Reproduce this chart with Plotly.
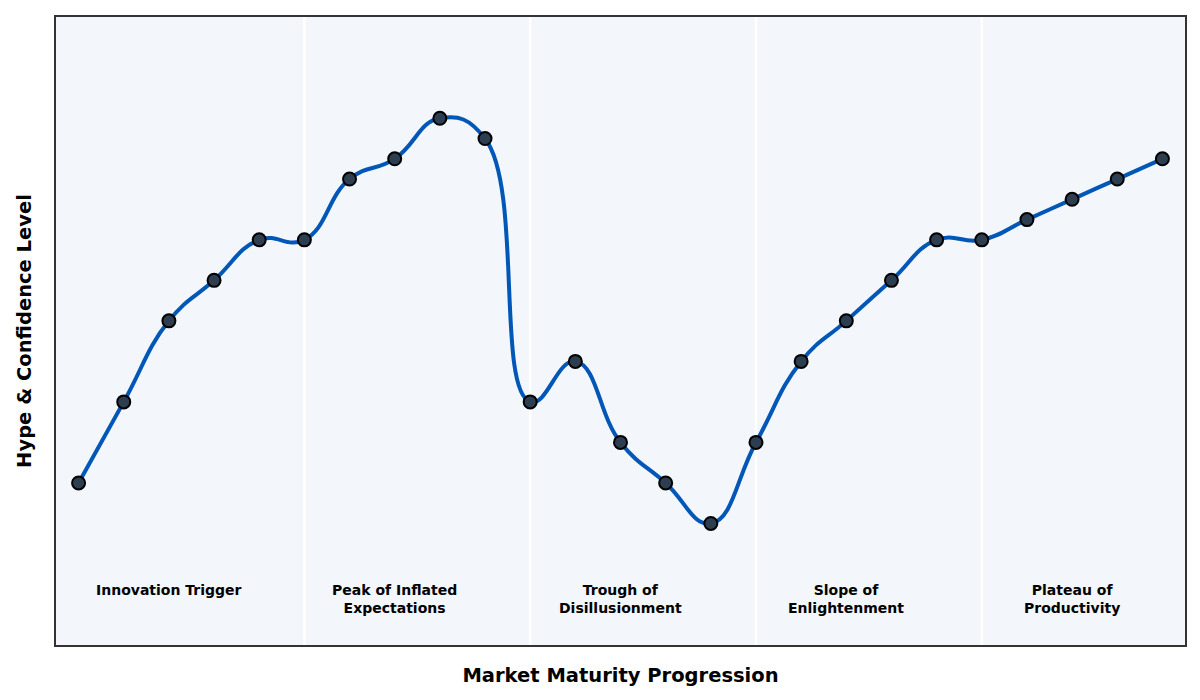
import plotly.graph_objects as go

x_vals = list(range(25))
hype = [1, 3, 5, 6, 7, 7, 8.5, 9, 10, 9.5, 3, 4, 2, 1, 0, 2, 4, 5, 6, 7, 7, 7.5, 8, 8.5, 9]
stage_names = ["Innovation Trigger", "Peak of Inflated<br>Expectations", "Trough of<br>Disillusionment",
               "Slope of<br>Enlightenment", "Plateau of<br>Productivity"]
stage_centers = [2, 7, 12, 17, 22]
stage_bounds = [5, 10, 15, 20]

fig = go.Figure()
fig.add_trace(go.Scatter(
    x=x_vals, y=hype, mode="lines+markers",
    line=dict(color="#0057b7", width=4, shape="spline", smoothing=1.3),
    marker=dict(size=13, color="#2c3e50", line=dict(color="#000000", width=2)),
    showlegend=False, hoverinfo="skip",
))

shapes = []
for b in stage_bounds:
    shapes.append(dict(type="line", xref="x", yref="paper", x0=b, x1=b, y0=0, y1=1,
                       line=dict(color="white", width=2.5), layer="below"))

annotations = []
for cx, name in zip(stage_centers, stage_names):
    annotations.append(dict(x=cx, y=-1.4, xref="x", yref="y", text=name, showarrow=False,
                            yanchor="top", xanchor="center", align="center",
                            font=dict(family="DejaVu Sans", size=14, color="black", weight="bold")))

fig.update_layout(
    width=1200, height=700,
    margin=dict(l=48, r=23, t=7, b=63),
    paper_bgcolor="white", plot_bgcolor="#f3f6fa",
    shapes=shapes, annotations=annotations,
    font=dict(family="DejaVu Sans"),
)
fig.update_xaxes(range=[-0.5, 24.5], showticklabels=False, showgrid=False, zeroline=False,
                 showline=True, mirror=True, linecolor="#333333", linewidth=2, ticks="",
                 title=dict(text="<b>Market Maturity Progression</b>", font=dict(size=19.5, color="black"), standoff=22))
fig.update_yaxes(range=[-3, 12.5], showticklabels=False, showgrid=False, zeroline=False,
                 showline=True, mirror=True, linecolor="#333333", linewidth=2, ticks="",
                 title=dict(text="<b>Hype & Confidence Level</b>", font=dict(size=19.5, color="black"), standoff=17))

fig.write_html("out.html")
